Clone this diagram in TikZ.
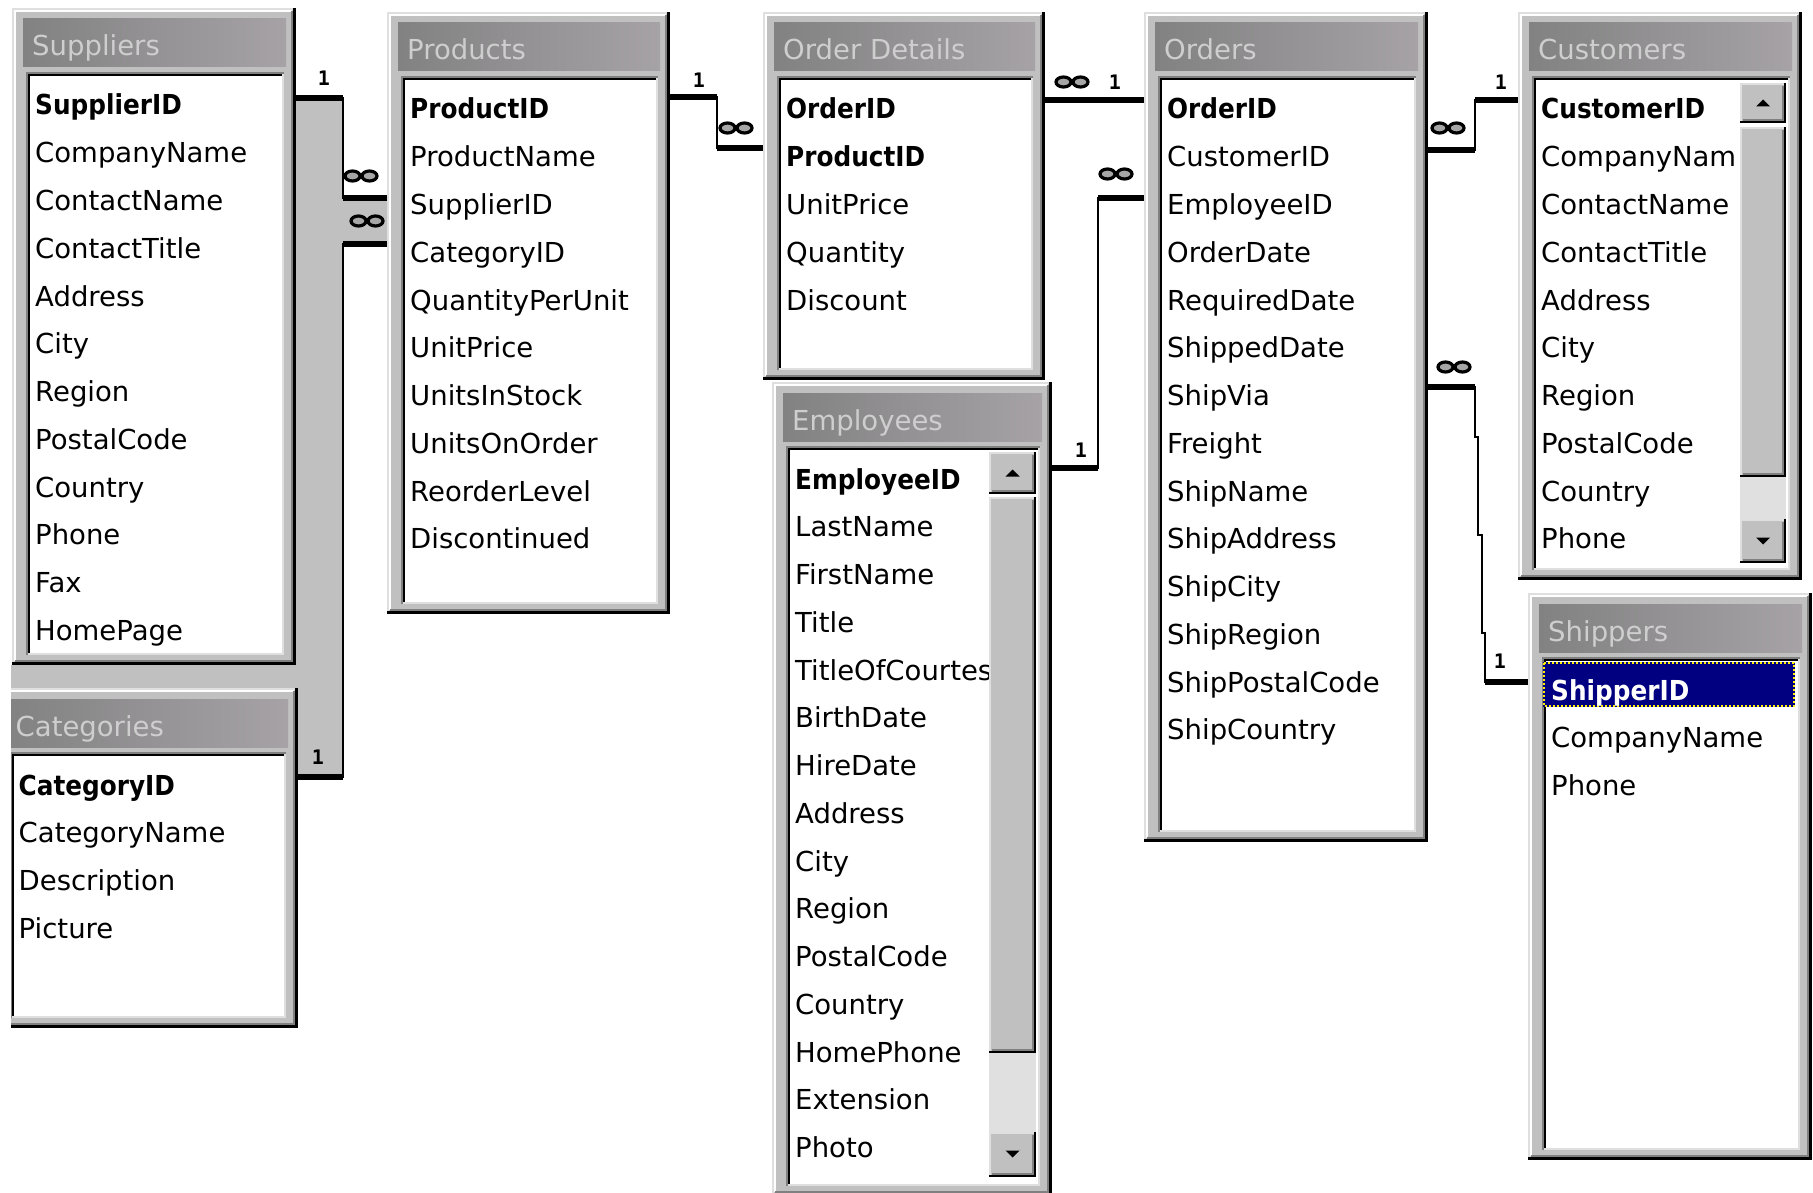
\documentclass[tikz,border=0pt]{standalone}
\usepackage{fontspec}
\setmainfont{DejaVu Sans}
\newfontfamily\keyfont[FakeStretch=0.9]{DejaVu Sans}
\newfontfamily\onefont{DejaVu Sans Mono}
\usetikzlibrary{positioning}
\definecolor{winface}{RGB}{192,192,192}
\definecolor{winlight}{RGB}{223,223,223}
\definecolor{winshadow}{RGB}{128,128,128}
\definecolor{titleleft}{RGB}{130,130,130}
\definecolor{titleright}{RGB}{166,162,166}
\definecolor{titletext}{RGB}{206,206,206}
\definecolor{selblue}{RGB}{0,0,128}
\definecolor{checker}{RGB}{224,224,224}
\newcommand{\kf}{\keyfont\bfseries}

\tikzset{
  fld/.style={anchor=base west, inner sep=0pt, font=\fontsize{27.5}{30}\selectfont},
  wintitle/.style={anchor=base west, inner sep=0pt, text=titletext, font=\fontsize{27.5}{30}\selectfont},
  onelabel/.style={inner sep=0pt, font=\fontsize{20}{20}\selectfont\onefont\bfseries},
  manylink/.style={line width=3.2pt, fill=winshadow!70!white},
  rel/.style={line width=6pt},
  relv/.style={line width=2.5pt},
}

% window frame with title bar and list box: x0,y0,x1,y1,title
\newcommand{\accwin}[5]{%
  \fill[winface] (#1,#2) rectangle (#3,#4);
  \draw[winlight,line width=2pt] (#1+1,#4) -- (#1+1,#2+1) -- (#3,#2+1);
  \draw[white,line width=2pt] (#1+3,#4-4) -- (#1+3,#2+3) -- (#3-4,#2+3);
  \draw[winshadow,line width=2pt] (#1+3,#4-4) -- (#3-4,#4-4) -- (#3-4,#2+3);
  \draw[black,line width=3pt] (#1,#4-1.5) -- (#3-1.5,#4-1.5) -- (#3-1.5,#2);
  \shade[left color=titleleft,right color=titleright] (#1+11,#2+11) rectangle (#3-10,#2+59);
  \node[wintitle] at (#1+20,#2+48) {#5};
  \fill[white] (#1+14,#2+64) rectangle (#3-12,#4-10);
  \draw[winshadow,line width=2pt] (#1+15,#4-10) -- (#1+15,#2+65) -- (#3-12,#2+65);
  \draw[black,line width=2pt] (#1+17,#4-12) -- (#1+17,#2+67) -- (#3-14,#2+67);
  \draw[winlight,line width=2pt] (#1+16,#4-11) -- (#3-13,#4-11) -- (#3-13,#2+66);
}
% field rows: x0,y0,prefix,list
\newcommand{\accrows}[4]{%
  \foreach \f [count=\i from 0] in {#4} {
    \node[fld] (#3-\i) at (#1+23,#2+107+47.75*\i) {\f};
  }
}
% raised scroll bar part
\newcommand{\raisedbox}[4]{%
  \fill[winface] (#1,#2) rectangle (#3,#4);
  \draw[winlight,line width=2pt] (#1+1,#4-1) -- (#1+1,#2+1) -- (#3-1,#2+1);
  \draw[winshadow,line width=2pt] (#1+3,#4-3) -- (#3-3,#4-3) -- (#3-3,#2+3);
  \draw[black,line width=2pt] (#1,#4-1) -- (#3-1,#4-1) -- (#3-1,#2);
}
\newcommand{\scrollup}[2]{\fill (#1-7,#2+3.5) -- (#1+7,#2+3.5) -- (#1,#2-3.5) -- cycle;}
\newcommand{\scrolldown}[2]{\fill (#1-7,#2-3.5) -- (#1+7,#2-3.5) -- (#1,#2+3.5) -- cycle;}
% many-side marker
\newcommand{\manyend}[3]{%
  \draw[manylink] (#2-8.5,#3) ellipse [x radius=7.5pt, y radius=5pt]
                  (#2+8.5,#3) ellipse [x radius=7.5pt, y radius=5pt];
  \coordinate (#1) at (#2,#3);
}

\begin{document}
\begin{tikzpicture}[x=1pt,y=-1pt]
\useasboundingbox (0,0) rectangle (1813,1193);
\fill[white] (0,0) rectangle (1813,1193);

% grey area behind the Suppliers / Categories links
\fill[winface] (296,98) -- (343,98) -- (343,198) -- (387,198) -- (387,244) -- (343,244)
  -- (343,777) -- (298,777) -- (298,688) -- (11,688) -- (11,665) -- (296,665) -- cycle;

% Suppliers
\accwin{12}{8}{296}{665}{Suppliers}
\accrows{12}{8}{sup}{{\kf SupplierID},CompanyName,ContactName,ContactTitle,Address,City,Region,PostalCode,Country,Phone,Fax,HomePage}

% Categories (cut at the left edge)
\begin{scope}
\clip (11,0) rectangle (1813,1193);
\accwin{-4.5}{688}{298}{1028}{Categories}
\end{scope}
\accrows{-4.5}{688}{cat}{{\kf CategoryID},CategoryName,Description,Picture}

% Products
\accwin{387}{12}{670}{614}{Products}
\accrows{387}{12}{prd}{{\kf ProductID},ProductName,SupplierID,CategoryID,QuantityPerUnit,UnitPrice,UnitsInStock,UnitsOnOrder,ReorderLevel,Discontinued}

% Order Details
\accwin{763}{12}{1045}{380}{Order Details}
\accrows{763}{12}{odt}{{\kf OrderID},{\kf ProductID},UnitPrice,Quantity,Discount}

% Employees
\accwin{772}{382}{1052}{1196}{Employees}
\accrows{772}{382}{emp}{{\kf EmployeeID},LastName,FirstName,Title,TitleOfCourtes,BirthDate,HireDate,Address,City,Region,PostalCode,Country,HomePhone,Extension,Photo}
\raisedbox{989}{452}{1036}{494}
\scrollup{1012.5}{473}
\raisedbox{989}{497}{1036}{1053}
\fill[checker] (989,1053) rectangle (1036,1132);
\raisedbox{989}{1132}{1036}{1177}
\scrolldown{1012.5}{1154}

% Orders
\accwin{1144}{12}{1428}{842}{Orders}
\accrows{1144}{12}{ord}{{\kf OrderID},CustomerID,EmployeeID,OrderDate,RequiredDate,ShippedDate,ShipVia,Freight,ShipName,ShipAddress,ShipCity,ShipRegion,ShipPostalCode,ShipCountry}

% Customers
\accwin{1518}{12}{1802}{580}{Customers}
\accrows{1518}{12}{cus}{{\kf CustomerID},CompanyNam,ContactName,ContactTitle,Address,City,Region,PostalCode,Country,Phone}
\raisedbox{1740}{83}{1786}{123}
\scrollup{1763}{103}
\raisedbox{1740}{127}{1786}{477}
\fill[checker] (1740,477) rectangle (1786,519);
\raisedbox{1740}{519}{1786}{563}
\scrolldown{1763}{541}

% Shippers
\accwin{1528}{593}{1812}{1160}{Shippers}
\fill[selblue] (1543,662) rectangle (1795,707);
\draw[yellow,line width=2pt,dash pattern=on 2pt off 2pt] (1544,663) rectangle (1794,706);
\accrows{1528}{593}{shp}{{\color{white}\kf ShipperID},CompanyName,Phone}

% link end points
\coordinate (sup-out) at (296,98);
\coordinate (prd-sup) at (387,198);
\coordinate (cat-out) at (298,777);
\coordinate (prd-cat) at (387,244);
\coordinate (prd-out) at (670,97);
\coordinate (odt-prd) at (763,148);
\coordinate (odt-out) at (1045,100);
\coordinate (ord-odt) at (1144,100);
\coordinate (emp-out) at (1052,468);
\coordinate (ord-emp) at (1144,198);
\coordinate (ord-cus) at (1428,150);
\coordinate (cus-in) at (1518,100);
\coordinate (ord-shp) at (1428,387);
\coordinate (shp-in) at (1528,682);

% Suppliers - Products
\draw[relv] (sup-out) -- ++(47,0) |- (prd-sup);
\draw[rel] (sup-out) -- ++(47,0);
\draw[rel] (prd-sup) -- ++(-44,0);
% Categories - Products
\draw[relv] (cat-out) -- ++(45,0) |- (prd-cat);
\draw[rel] (cat-out) -- ++(45,0);
\draw[rel] (prd-cat) -- ++(-44,0);
% Products - Order Details
\draw[relv] (prd-out) -- ++(47,0) |- (odt-prd);
\draw[rel] (prd-out) -- ++(47,0);
\draw[rel] (odt-prd) -- ++(-46,0);
% Order Details - Orders
\draw[rel] (odt-out) -- (ord-odt);
% Employees - Orders
\draw[relv] (emp-out) -- ++(46,0) |- (ord-emp);
\draw[rel] (emp-out) -- ++(46,0);
\draw[rel] (ord-emp) -- ++(-46,0);
% Orders - Customers
\draw[relv] (ord-cus) -- ++(47,0) |- (cus-in);
\draw[rel] (ord-cus) -- ++(47,0);
\draw[rel] (cus-in) -- ++(-43,0);
% Orders - Shippers
\draw[relv] (ord-shp) -- ++(47,0) -- ++(0,50) -- ++(3,0) -- ++(0,98) -- ++(4,0)
  -- ++(0,98) -- ++(3,0) |- (shp-in);
\draw[rel] (ord-shp) -- ++(47,0);
\draw[rel] (shp-in) -- ++(-43,0);

% cardinality marks
\node[onelabel] (one-sup) at (324,78) {1};
\node[onelabel] (one-cat) at (318,757) {1};
\node[onelabel] (one-prd) at (699,80) {1};
\node[onelabel] (one-ord) at (1115,82) {1};
\node[onelabel] (one-emp) at (1081,450) {1};
\node[onelabel] (one-cus) at (1501,82) {1};
\node[onelabel] (one-shp) at (1500,661) {1};
\manyend{many-sup}{361}{176}
\manyend{many-cat}{367}{221}
\manyend{many-prd}{736}{128}
\manyend{many-odt}{1072}{82}
\manyend{many-emp}{1116}{174}
\manyend{many-cus}{1448}{128}
\manyend{many-shp}{1454}{367}
\end{tikzpicture}
\end{document}
